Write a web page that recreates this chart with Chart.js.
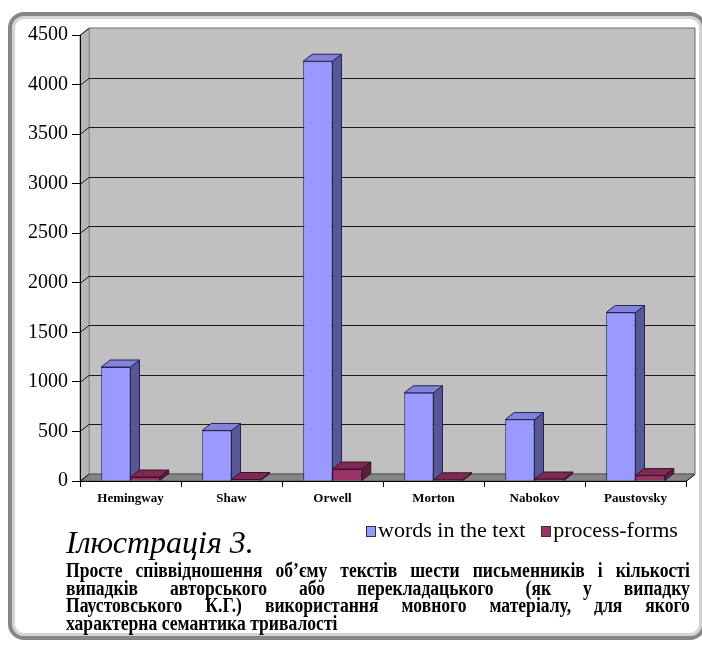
<!DOCTYPE html>
<html>
<head>
<meta charset="utf-8">
<script src="https://cdn.jsdelivr.net/npm/chart.js@4/dist/chart.umd.min.js"></script>
<style>
  html, body { margin: 0; padding: 0; background: #fff; width: 702px; height: 646px; overflow: hidden; }
  #frame {
    position: absolute; left: 8px; top: 12px; width: 698px; height: 628px;
    border: 4px solid #868686; border-radius: 16px; box-sizing: border-box;
    box-shadow: inset 0 0 0 3px #d4d4d4;
  }
  #c { position: absolute; left: 0; top: 0; }
  #title { position: absolute; left: 66px; top: 524px; font: italic 32px "Liberation Serif", serif; color: #000; white-space: nowrap; }
  #legend { position: absolute; left: 366px; top: 518px; font: 22px/24px "Liberation Serif", serif; color: #000; display: flex; white-space: nowrap; }
  #legend .item { display: flex; align-items: center; margin-right: 16px; }
  #legend .sw { width: 8px; height: 9px; border: 1px solid #333; margin-right: 2px; margin-top: 2px; }
  #caption {
    position: absolute; left: 66px; top: 562px; width: 709px;
    transform: scaleX(0.88); transform-origin: 0 0;
    font: bold 20px/17.5px "Liberation Serif", serif; color: #000;
  }
  #caption div { text-align: justify; text-align-last: justify; white-space: nowrap; }
  #caption div.last { text-align-last: left; }
</style>
</head>
<body>
<div id="frame"></div>
<canvas id="c" width="702" height="646"></canvas>
<div id="title">Ілюстрація 3.</div>
<div id="legend"></div>
<div id="caption">
  <div>Просте співвідношення об’єму текстів шести письменників і кількості</div>
  <div>випадків авторського або перекладацького (як у випадку</div>
  <div>Паустовського К.Г.) використання мовного матеріалу, для якого</div>
  <div class="last">характерна семантика тривалості</div>
</div>
<script>
// Authors and counts
const authors = ['Hemingway', 'Shaw', 'Orwell', 'Morton', 'Nabokov', 'Paustovsky'];
const wordsInText = [1150, 510, 4235, 890, 620, 1700];
const processForms = [40, 15, 120, 12, 20, 55];
const seriesNames = ['words in the text', 'process-forms'];

// y axis range
const yMin = 0;
const yMax = 4500;
const yStep = 500;

// 3D depth offset
const DX = 9, DY = -7;

const palette = [
  { front: '#9999FF', top: '#8383D8', side: '#575793', edge: '#22225C' },
  { front: '#993366', top: '#7E2A55', side: '#5C1F3E', edge: '#3A1026' }
];

function poly(ctx, pts, fill, stroke) {
  ctx.beginPath();
  ctx.moveTo(pts[0][0], pts[0][1]);
  for (let i = 1; i < pts.length; i++) ctx.lineTo(pts[i][0], pts[i][1]);
  ctx.closePath();
  if (fill) { ctx.fillStyle = fill; ctx.fill(); }
  if (stroke) { ctx.strokeStyle = stroke; ctx.lineWidth = 1; ctx.stroke(); }
}

// Walls, floor and wall gridlines, drawn under the axes
const walls3d = {
  id: 'walls3d',
  beforeDraw(chart) {
    const { ctx, chartArea: { left, right, top, bottom }, scales: { y } } = chart;
    ctx.save();
    // back wall
    poly(ctx, [[left + DX, top + DY], [right + DX, top + DY], [right + DX, bottom + DY], [left + DX, bottom + DY]], '#C0C0C0', '#6E6E6E');
    // side wall
    poly(ctx, [[left, top], [left + DX, top + DY], [left + DX, bottom + DY], [left, bottom]], '#B6B6B6', '#8A8A8A');
    // floor
    poly(ctx, [[left, bottom], [left + DX, bottom + DY], [right + DX, bottom + DY], [right, bottom]], '#858585', '#5A5A5A');
    // gridlines on the back wall
    ctx.strokeStyle = '#1A1A1A';
    ctx.lineWidth = 1;
    y.ticks.forEach(t => {
      const py = Math.round(y.getPixelForValue(t.value)) + 0.5;
      ctx.beginPath();
      ctx.moveTo(left, py);
      ctx.lineTo(left + DX, py + DY);
      if (t.value > yMin && t.value < yMax) ctx.lineTo(right + DX, py + DY);
      ctx.stroke();
    });
    // right end of the floor edge
    ctx.beginPath();
    ctx.moveTo(right, bottom + 0.5);
    ctx.lineTo(right + DX, bottom + DY + 0.5);
    ctx.stroke();
    ctx.restore();
  },
  // top and side faces of each column
  beforeDatasetsDraw(chart) {
    const { ctx } = chart;
    ctx.save();
    chart.data.labels.forEach((_, idx) => {
      chart.data.datasets.forEach((ds, di) => {
        const bar = chart.getDatasetMeta(di).data[idx];
        const { x, y, base, width } = bar.getProps(['x', 'y', 'base', 'width'], true);
        const l = x - width / 2, r = x + width / 2;
        const c = palette[di];
        poly(ctx, [[r, y], [r + DX, y + DY], [r + DX, base + DY], [r, base]], c.side, c.edge);
        poly(ctx, [[l, y], [l + DX, y + DY], [r + DX, y + DY], [r, y]], c.top, c.edge);
      });
    });
    ctx.restore();
  }
};

const chart = new Chart(document.getElementById('c'), {
  type: 'bar',
  data: {
    labels: authors,
    datasets: [
      { label: seriesNames[0], data: wordsInText, backgroundColor: palette[0].front, borderColor: palette[0].edge, borderWidth: 1 },
      { label: seriesNames[1], data: processForms, backgroundColor: palette[1].front, borderColor: palette[1].edge, borderWidth: 1 }
    ]
  },
  options: {
    responsive: false,
    animation: false,
    layout: { padding: { left: 0, right: 16, top: 35, bottom: 0 } },
    plugins: { legend: { display: false }, tooltip: { enabled: false } },
    datasets: { bar: { categoryPercentage: 0.58, barPercentage: 1.0, borderSkipped: 'start' } },
    scales: {
      x: {
        grid: { display: true, drawOnChartArea: false, offset: true, tickLength: 6, color: '#000' },
        border: { display: true, color: '#000' },
        ticks: { color: '#000', font: { family: 'Liberation Serif', size: 13, weight: 'bold' }, padding: 4, maxRotation: 0 },
        afterFit(scale) { scale.height = 646 - 481; }
      },
      y: {
        min: yMin, max: yMax,
        grid: { display: true, drawOnChartArea: false, tickLength: 8, color: '#000' },
        border: { display: true, color: '#000' },
        ticks: {
          stepSize: yStep, color: '#000', padding: 4,
          font: { family: 'Liberation Serif', size: 20 },
          callback: v => String(v)
        },
        afterFit(scale) { scale.width = 80; }
      }
    }
  },
  plugins: [walls3d]
});

// legend built from the datasets
const legend = document.getElementById('legend');
chart.data.datasets.forEach(ds => {
  const item = document.createElement('div');
  item.className = 'item';
  const sw = document.createElement('span');
  sw.className = 'sw';
  sw.style.background = ds.backgroundColor;
  const txt = document.createElement('span');
  txt.textContent = ds.label;
  item.appendChild(sw);
  item.appendChild(txt);
  legend.appendChild(item);
});
</script>
</body>
</html>
